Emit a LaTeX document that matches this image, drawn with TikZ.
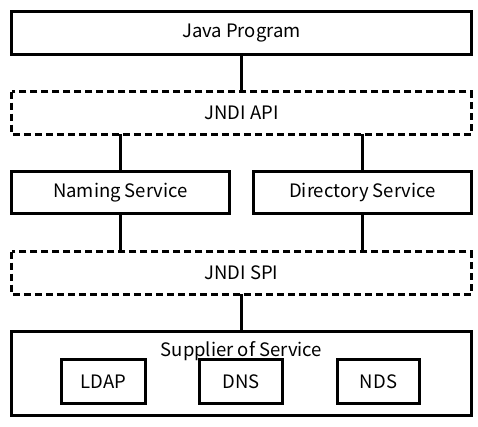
\documentclass[tikz,border=0pt]{standalone}
\usepackage{fontspec}
\setmainfont{Noto Sans CJK KR}
\begin{document}
\begin{tikzpicture}[x=1pt,y=1pt,line width=2.7pt,
    box/.style={rectangle,inner sep=0pt,font=\fontsize{18.5}{21}\selectfont},
    layer/.style={dash pattern=on 7pt off 4pt}]
        \useasboundingbox (0,0) rectangle (478,426);
        \node[box,minimum width=457,minimum height=40] (java) at (241.5,393) {Java Program};
        \node[box,minimum width=457,minimum height=40] (api) at (241.5,313) {JNDI API};
        \node[box,minimum width=215,minimum height=39] (naming) at (120.5,233.5) {Naming Service};
        \node[box,minimum width=215,minimum height=39] (directory) at (362.5,233.5) {Directory Service};
        \node[box,minimum width=457,minimum height=40] (spi) at (241.5,153) {JNDI SPI};
        \node[box,minimum width=457,minimum height=81] (supplier) at (241.5,52.5) {};
        \node[box] (suppliertext) at (241.5,75) {Supplier of Service};
        \node[box,minimum width=81,minimum height=41] (ldap) at (103.5,44.5) {LDAP};
        \node[box,minimum width=80,minimum height=41] (dns) at (241,44.5) {DNS};
        \node[box,minimum width=79,minimum height=41] (nds) at (378.5,44.5) {NDS};
        % outlines
        \foreach \n in {java,naming,directory,supplier,ldap,dns,nds}
            \draw (\n.north west) rectangle (\n.south east);
        \foreach \n in {api,spi}
            \draw[layer] (\n.north west) rectangle (\n.south east);
        \draw (java) -- (api);
        \draw (api.south -| naming) -- (naming);
        \draw (api.south -| directory) -- (directory);
        \draw (naming) -- (naming |- spi.north);
        \draw (directory) -- (directory |- spi.north);
        \draw (spi) -- (supplier);
    \end{tikzpicture}
\end{document}
